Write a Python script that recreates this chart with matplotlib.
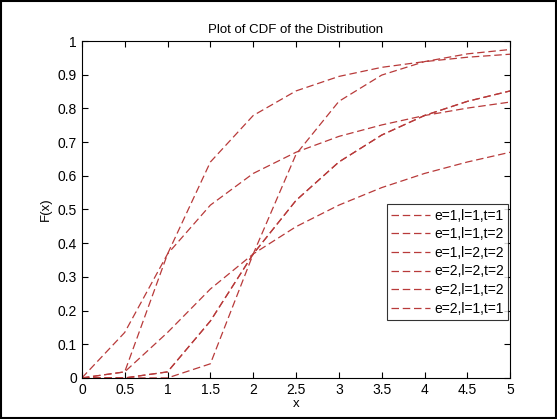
import matplotlib
matplotlib.use("Agg")
import matplotlib.pyplot as plt
from matplotlib.patches import Rectangle

plt.rcParams["font.family"] = ["Liberation Sans", "DejaVu Sans"]

x = [0, 0.5, 1, 1.5, 2, 2.5, 3, 3.5, 4, 4.5, 5]

# CDF values
cdf_111 = [0, 0.135, 0.368, 0.513, 0.607, 0.670, 0.717, 0.751, 0.779, 0.801, 0.819]
cdf_112 = [0, 0.018, 0.368, 0.641, 0.779, 0.852, 0.895, 0.922, 0.939, 0.952, 0.961]
cdf_122 = [0, 0.018, 0.135, 0.264, 0.368, 0.449, 0.513, 0.565, 0.607, 0.641, 0.670]
cdf_222 = [0, 0.0, 0.018, 0.169, 0.368, 0.527, 0.641, 0.721, 0.779, 0.821, 0.852]
cdf_212 = [0, 0.0, 0.0, 0.042, 0.368, 0.664, 0.821, 0.899, 0.939, 0.962, 0.975]
cdf_211 = [0, 0.0, 0.018, 0.169, 0.368, 0.527, 0.641, 0.721, 0.779, 0.821, 0.852]

labels = ["e=1,l=1,t=1", "e=1,l=1,t=2", "e=1,l=2,t=2",
          "e=2,l=2,t=2", "e=2,l=1,t=2", "e=2,l=1,t=1"]
series = [cdf_111, cdf_112, cdf_122, cdf_222, cdf_212, cdf_211]

fig = plt.figure(figsize=(5.57, 4.19), dpi=100)
ax = fig.add_axes([0.147, 0.098, 0.769, 0.804])

for y, lab in zip(series, labels):
    ax.plot(x, y, linestyle=(0, (6, 3)), color="#b83a3a", linewidth=0.9, label=lab)

ax.set_xlim(0, 5)
ax.set_ylim(0, 1)
ax.set_xticks(x)
ax.set_xticklabels([f"{v:g}" for v in x])
yt = [i / 10 for i in range(11)]
ax.set_yticks(yt)
ax.set_yticklabels([f"{v:g}" for v in yt])
ax.tick_params(direction="in", top=True, right=True, labelsize=10, length=4, width=0.8)
for s in ax.spines.values():
    s.set_linewidth(0.8)

ax.set_title("Plot of CDF of the Distribution", fontsize=9.5)
ax.set_xlabel("x", fontsize=9.5, labelpad=1)
ax.set_ylabel("F(x)", fontsize=9.5)

leg = ax.legend(loc="upper right", bbox_to_anchor=(0.995, 0.515), fontsize=10,
                frameon=True, fancybox=False, edgecolor="black",
                handlelength=2.8, borderpad=0.3, labelspacing=0.33,
                handletextpad=0.3, borderaxespad=0)
leg.get_frame().set_linewidth(0.8)

fig.patches.append(Rectangle((0.002, 0.002), 0.996, 0.996, transform=fig.transFigure,
                             fill=False, edgecolor="black", linewidth=1.5))

fig.savefig("out.png", dpi=100)
plt.close(fig)
